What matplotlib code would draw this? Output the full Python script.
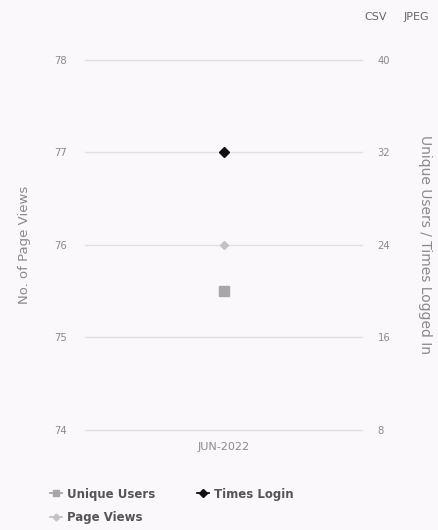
import matplotlib
matplotlib.use("Agg")
import matplotlib.pyplot as plt
from matplotlib.lines import Line2D

categories = ["JUN-2022"]
page_views = [76]
unique_users = [20]
times_login = [32]
left_ticks = [74, 75, 76, 77, 78]
right_ticks = [8, 16, 24, 32, 40]

bg = "#faf8fa"
fig = plt.figure(figsize=(4.39, 5.30), dpi=100, facecolor=bg)
ax = fig.add_axes([0.194, 0.189, 0.631, 0.698])
ax.set_facecolor(bg)
ax2 = ax.twinx()

x = list(range(len(categories)))
ax.set_xlim(-0.55, len(categories) - 0.45)
ax.set_ylim(left_ticks[0], left_ticks[-1])
ax2.set_ylim(right_ticks[0], right_ticks[-1])
ax.set_yticks(left_ticks)
ax2.set_yticks(right_ticks)
ax.set_xticks(x)
ax.set_xticklabels(categories)

for a in (ax, ax2):
    for s in a.spines.values():
        s.set_visible(False)
ax.grid(axis="y", color="#e2e0e2", linewidth=1)
for gl in ax.get_ygridlines():
    gl.set_clip_on(False)
ax.set_axisbelow(True)
ax.tick_params(axis="y", length=0, pad=13, labelsize=7.2, labelcolor="#8a8a8a")
ax2.tick_params(axis="y", length=0, pad=11, labelsize=7.2, labelcolor="#8a8a8a")
ax.tick_params(axis="x", length=0, pad=9, labelsize=8, labelcolor="#8a8a8a")

ax.set_ylabel("No. of Page Views", fontsize=9.5, color="#8a8a8a", labelpad=17)
ax2.set_ylabel("Unique Users / Times Logged In", fontsize=10, color="#8a8a8a",
               rotation=270, labelpad=30)

c_uu = "#a8a6a8"
c_pv = "#c4c2c4"
c_tl = "#111111"
ax.plot(x, page_views, marker="D", markersize=4.5, color=c_pv, linestyle="none", zorder=3)
ax2.plot(x, unique_users, marker="s", markersize=6.5, color=c_uu, linestyle="none", zorder=3)
ax2.plot(x, times_login, marker="D", markersize=5.5, color=c_tl, linestyle="none", zorder=3)

handles = [
    Line2D([], [], color=c_uu, marker="s", markersize=4.5, linewidth=1.3),
    Line2D([], [], color=c_pv, marker="D", markersize=3.5, linewidth=1.3),
    Line2D([], [], color=c_tl, marker="D", markersize=4, linewidth=1.3),
]
labels = ["Unique Users", "Page Views", "Times Login"]
leg = fig.legend(handles, labels, ncol=2, loc="upper left",
                 bbox_to_anchor=(0.09, 0.1), frameon=False,
                 handlelength=1.0, handletextpad=0.4, columnspacing=3.6,
                 labelspacing=0.85, prop={"size": 8.5, "weight": "bold"})
for t in leg.get_texts():
    t.set_color("#555555")

fig.text(0.855, 0.968, "CSV", fontsize=8, color="#666666", ha="center", va="center")
fig.text(0.948, 0.968, "JPEG", fontsize=8, color="#666666", ha="center", va="center")

fig.savefig("out.png", dpi=100, facecolor=bg)
